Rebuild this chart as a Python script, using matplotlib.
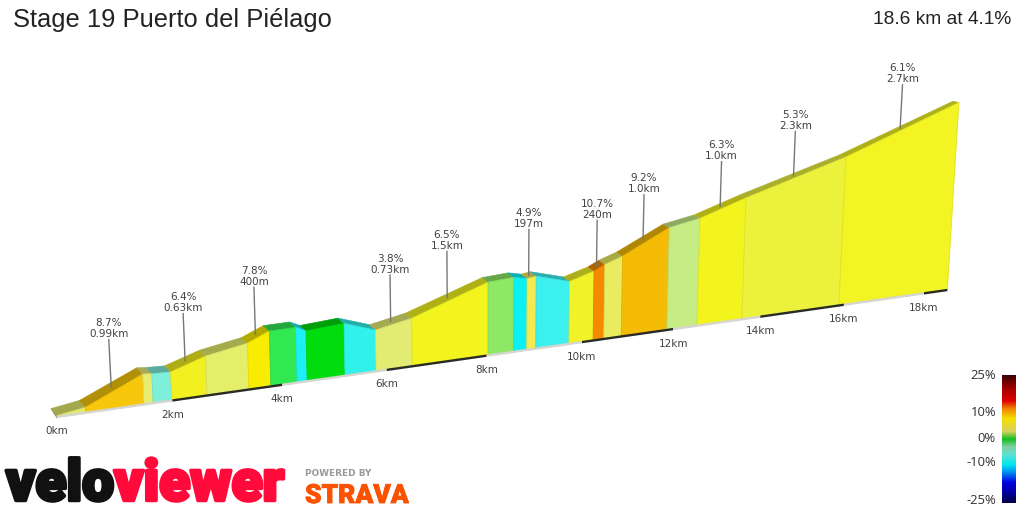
import numpy as np
import matplotlib
matplotlib.use("Agg")
import matplotlib.pyplot as plt
import matplotlib.patheffects as pe
from matplotlib.colors import LinearSegmentedColormap, to_rgb

# profile
dist_km = [0.0, 0.49, 1.50, 1.66, 1.99, 2.62, 3.385, 3.79, 4.28, 4.47, 5.19, 5.79, 6.50,
           8.03, 8.56, 8.83, 9.02, 9.72, 10.24, 10.47, 10.85, 11.86, 12.54, 13.57, 15.88, 18.6]
elev_m = [3, 17, 101, 98, 95, 133, 158, 190, 191, 174, 183, 145, 170,
          265, 271, 260, 265, 230, 257, 277, 300, 387, 409, 468, 587, 763]
seg_colors = ["#e3ea6c", "#f6c70a", "#e8ec70", "#7eefd8", "#f2f020", "#e4ee6a", "#f8ec00", "#30e850",
              "#1cf0f4", "#00dc0c", "#30f2ea", "#e3ec72", "#f3f41e", "#8de864", "#0cf0f4", "#f2ea50",
              "#3cf0ee", "#f2f228", "#f58a00", "#e9ec60", "#f5bc05", "#c6ec84", "#f3f41e", "#ecf23c",
              "#f2f424"]

# climbs that get a label: segment index, gradient, length
label_seg = [1, 4, 6, 11, 12, 15, 18, 20, 22, 23, 24]
label_grade = ["8.7%", "6.4%", "7.8%", "3.8%", "6.5%", "4.9%", "10.7%", "9.2%", "6.3%", "5.3%", "6.1%"]
label_len = ["0.99km", "0.63km", "400m", "0.73km", "1.5km", "197m", "240m", "1.0km", "1.0km", "2.3km", "2.7km"]
tick_km = [0, 2, 4, 6, 8, 10, 12, 14, 16, 18]

scale_vals = [25, 10, 0, -10, -25]
scale_labels = ["25%", "10%", "0%", "-10%", "-25%"]
scale_stops = [-25, -21, -17, -13, -10, -6, -3, 0, 3, 8, 12, 15, 20, 25]
scale_cols = ["#000040", "#0000a0", "#0000e0", "#0090f0", "#00e8f0", "#60e0d0", "#80d0a0",
              "#10c020", "#d8d060", "#f5e000", "#f08000", "#e00000", "#a00000", "#3a0000"]


# perspective used by the veloviewer 3d view, fitted to the picture
def project(d, h=0.0, depth=0.0):
    d = np.asarray(d, dtype=float)
    x = 57 + 59.15 * d / (1 + 0.01267 * d)
    y = 416.5 - 0.1425 * (x - 57)
    hp = 0.303 * np.asarray(h, dtype=float) / (1 + 0.01267 * d)
    px = x + (x - 490) * hp / 7400
    py = y - hp
    px = px - 6 * depth
    py = py - depth * (py - 30) / 55
    return px, py


def darker(col, f=0.72):
    return tuple(c * f for c in to_rgb(col))


fig = plt.figure(figsize=(10.24, 5.12), dpi=100)
ax = fig.add_axes([0, 0, 1, 1])
ax.set_xlim(0, 1024)
ax.set_ylim(512, 0)
ax.axis("off")

# end cap at the start
x0, y0 = project(0, 0)
x1, y1 = project(0, 0, 1)
x2, y2 = project(0, elev_m[0], 1)
ax.fill([x0, x1, x2, x0 + 1], [y0 + 2, y1, y2 - 1, y0], color="#8a8f6a", lw=0, zorder=2)

# top strips
for i, col in enumerate(seg_colors):
    d = [dist_km[i], dist_km[i + 1]]
    h = [elev_m[i], elev_m[i + 1]]
    fx, fy = project(d, h)
    bx, by = project(d, h, 1)
    ax.fill([fx[0], fx[1], bx[1], bx[0]], [fy[0], fy[1], by[1], by[0]],
            color=darker(col), lw=0.4, zorder=2)

# front faces
for i, col in enumerate(seg_colors):
    d = [dist_km[i], dist_km[i + 1]]
    h = [elev_m[i], elev_m[i + 1]]
    fx, fy = project(d, h)
    gx, gy = project(d)
    ax.fill([gx[0], gx[1], fx[1], fx[0]], [gy[0], gy[1], fy[1], fy[0]],
            facecolor=col, edgecolor=darker(col, 0.93), lw=0.6, zorder=3)

# ground strip, black every other 2km
edges = [0, 2, 4, 6, 8, 10, 12, 14, 16, 18, 18.6]
for i in range(len(edges) - 1):
    gx, gy = project(edges[i:i + 2])
    ax.fill([gx[0], gx[1], gx[1], gx[0]], [gy[0] - 0.8, gy[1] - 0.8, gy[1] + 1.6, gy[0] + 1.6],
            color="#2b2b26" if i % 2 else "#d6d6d0", lw=0, zorder=4)

for km in tick_km:
    gx, gy = project(km)
    ax.text(gx, gy + 15, f"{km}km", ha="center", va="center", fontsize=7.5, color="#404040", zorder=6)

# labels with leader lines
for seg, grade, length in zip(label_seg, label_grade, label_len):
    dm = (dist_km[seg] + dist_km[seg + 1]) / 2
    hm = (elev_m[seg] + elev_m[seg + 1]) / 2
    bx_, by_ = project(dm, hm, 0.5)
    rise = 48 - 0.25 * dm
    lean = (bx_ - 490) * rise / 7400
    ax.plot([bx_, bx_ + lean], [by_, by_ - rise], color="#777777", lw=1, zorder=5)
    ax.text(bx_ + lean, by_ - rise - 5.5, length, ha="center", va="center", fontsize=7.5, color="#404040", zorder=6)
    ax.text(bx_ + lean, by_ - rise - 16.5, grade, ha="center", va="center", fontsize=7.5, color="#404040", zorder=6)

# title row
ax.text(13, 19.5, "Stage 19 Puerto del Piélago", family="Liberation Sans", fontsize=18.4, ha="left", va="center", color="#222222")
ax.text(1011, 19.5, "18.6 km at 4.1%", family="Liberation Sans", fontsize=13.8, ha="right", va="center", color="#222222")

# gradient scale
cmap = LinearSegmentedColormap.from_list(
    "grad", [((s + 25) / 50, c) for s, c in zip(scale_stops, scale_cols)])
grad = np.linspace(25, -25, 256).reshape(-1, 1)
ax.imshow(grad, cmap=cmap, vmin=-25, vmax=25, aspect="auto", extent=(1002, 1015.5, 503, 375), zorder=3)
ax.set_xlim(0, 1024)
ax.set_ylim(512, 0)
for v, lab in zip(scale_vals, scale_labels):
    ax.text(996, 438 - v * 2.5, lab, family="Open Sans", fontsize=9.4, ha="right", va="center", color="#333333")

# logo
fig.canvas.draw()
rend = fig.canvas.get_renderer()
lx = 6
for word, col in [("velo", "#111111"), ("viewer", "#ff0a3a")]:
    t = ax.text(lx, 500.5, word, family="Roboto", weight="black", fontsize=41, color=col, ha="left", va="baseline",
                path_effects=[pe.withStroke(linewidth=2.5, foreground=col)])
    lx += t.get_window_extent(rend).width

ax.text(305, 474, "POWERED BY", family="DejaVu Sans", weight="bold", fontsize=6.4, color="#999999", ha="left", va="center")
ax.text(305, 503, "STRAVA", family="Roboto", weight="black", fontsize=19, color="#fc5200", ha="left", va="baseline",
        path_effects=[pe.withStroke(linewidth=0.6, foreground="#fc5200")])

fig.savefig("out.png", dpi=100)
